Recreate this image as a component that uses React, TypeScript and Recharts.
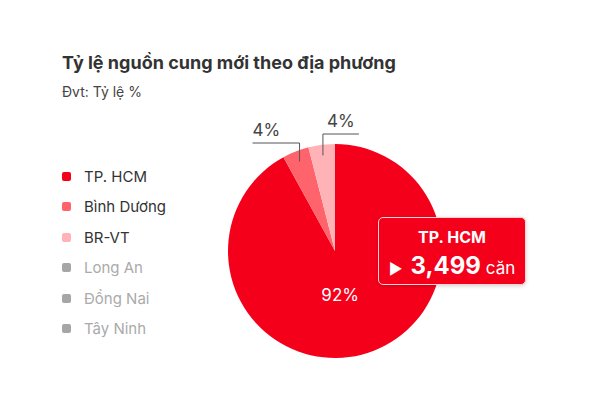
import { PieChart, Pie, Cell, Tooltip } from 'recharts'

const regions = ['TP. HCM', 'Bình Dương', 'BR-VT', 'Long An', 'Đồng Nai', 'Tây Ninh']
const shares = [92, 4, 4, 0, 0, 0]
const units = [3499, 152, 150, 0, 0, 0]
const colors = ['#f5001b', '#ff636b', '#ffb3b7', '#a6a6a6', '#a6a6a6', '#a6a6a6']

const data = regions
  .map((name, i) => ({ name, value: shares[i], units: units[i], color: colors[i] }))
  .filter((d) => d.value > 0)

const RAD = Math.PI / 180
const FONT = 'Inter, "Noto Sans", sans-serif'

function renderLabel(p: any) {
  const { cx, cy, midAngle, outerRadius, index, value } = p
  const at = (r: number) => ({ x: cx + r * Math.cos(-midAngle * RAD), y: cy + r * Math.sin(-midAngle * RAD) })
  if (index === 0) {
    const c = at(outerRadius * 0.42)
    return (
      <text x={c.x - 6} y={c.y + 6} fill="#fff" fontSize={17} textAnchor="middle" fontFamily={FONT}>
        {value}%
      </text>
    )
  }
  const s = at(outerRadius * 0.9)
  const left = index === 1
  const ey = cy - outerRadius - (left ? 1 : 10)
  const ex = s.x + (left ? -47 : 36)
  return (
    <g>
      <polyline points={`${s.x},${s.y} ${s.x},${ey} ${ex},${ey}`} fill="none" stroke="#555" strokeWidth={1} />
      <text x={left ? ex : s.x + 4} y={ey - 7} fill="#444" fontSize={17} fontFamily={FONT}>
        {value}%
      </text>
    </g>
  )
}

function LegendList() {
  return (
    <div style={{ position: 'absolute', left: 62, top: 161, fontFamily: FONT }}>
      {regions.map((name, i) => {
        const on = shares[i] > 0
        return (
          <div key={name} style={{ display: 'flex', alignItems: 'center', height: 30.5 }}>
            <span style={{ width: 9, height: 9, borderRadius: 2, background: colors[i], marginRight: 13 }} />
            <span style={{ fontSize: 15, color: on ? '#333' : '#aaa' }}>{name}</span>
          </div>
        )
      })}
    </div>
  )
}

function HcmTip({ payload }: any) {
  if (!payload || !payload.length) return null
  const d = payload[0].payload
  return (
    <div
      style={{
        width: 148,
        height: 68,
        boxSizing: 'border-box',
        background: '#f5001b',
        borderRadius: 5,
        border: '1px solid #ffd0d4',
        boxShadow: '0 1px 4px rgba(0,0,0,0.18)',
        color: '#fff',
        fontFamily: FONT,
        textAlign: 'center',
        paddingTop: 9,
      }}
    >
      <div style={{ fontSize: 16, fontWeight: 700, lineHeight: '20px' }}>{d.name}</div>
      <div style={{ marginTop: 4, display: 'flex', alignItems: 'baseline', justifyContent: 'center' }}>
        <span style={{ fontSize: 15, marginRight: 8 }}>▶</span>
        <span style={{ fontSize: 24, fontWeight: 700 }}>{d.units.toLocaleString('en-US')}</span>
        <span style={{ fontSize: 17, marginLeft: 5 }}>căn</span>
      </div>
    </div>
  )
}

export default function App() {
  return (
    <div style={{ position: 'absolute', left: 0, top: 0, width: 612, height: 415, background: '#fff', fontFamily: FONT }}>
      <div style={{ position: 'absolute', left: 62, top: 52, fontSize: 18, fontWeight: 700, color: '#333' }}>
        Tỷ lệ nguồn cung mới theo địa phương
      </div>
      <div style={{ position: 'absolute', left: 62, top: 83, fontSize: 14, color: '#444' }}>Đvt: Tỷ lệ %</div>
      <LegendList />
      <PieChart width={612} height={415} margin={{ top: 0, right: 0, bottom: 0, left: 0 }} style={{ position: 'absolute', left: 0, top: 0 }}>
        <Pie
          data={data}
          dataKey="value"
          nameKey="name"
          cx={335}
          cy={251}
          outerRadius={107}
          startAngle={90}
          endAngle={-270}
          stroke="none"
          label={renderLabel}
          labelLine={false}
          isAnimationActive={false}
        >
          {data.map((d) => (
            <Cell key={d.name} fill={d.color} />
          ))}
        </Pie>
        <Tooltip
          defaultIndex={0}
          active
          position={{ x: 378, y: 217 }}
          cursor={false}
          content={<HcmTip />}
          isAnimationActive={false}
          wrapperStyle={{ outline: 'none' }}
        />
      </PieChart>
    </div>
  )
}
